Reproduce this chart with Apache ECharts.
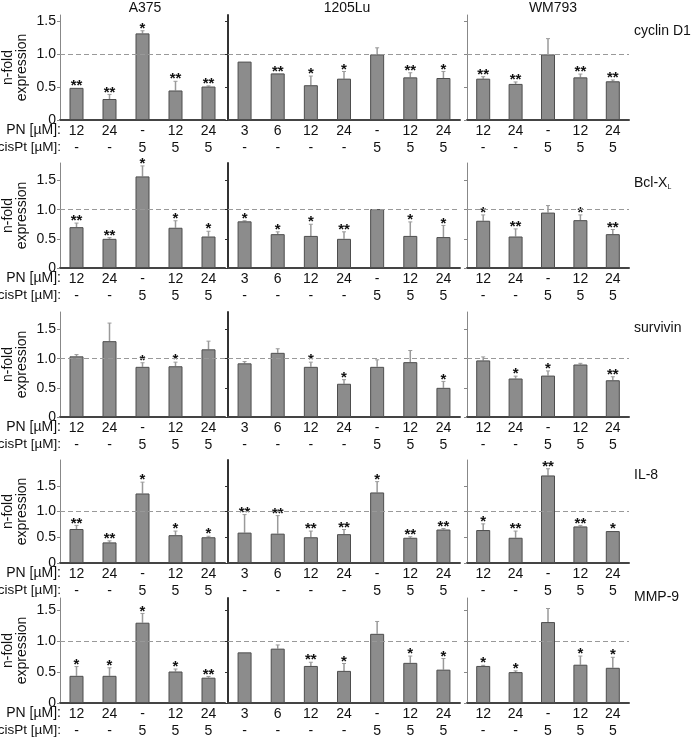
<!DOCTYPE html>
<html><head><meta charset="utf-8">
<script src="https://cdn.jsdelivr.net/npm/echarts@6/dist/echarts.min.js"></script>
<style>html,body{margin:0;padding:0;background:#fff}#c{width:693px;height:746px}</style>
</head><body><div id="c"></div>
<script>
// ---- categories ----
const pnA375 = ['12','24','-','12','24'];
const cisA375 = ['-','-','5','5','5'];
const pn1205 = ['3','6','12','24','-','12','24'];
const cis1205 = ['-','-','-','-','5','5','5'];
const pnWM = ['12','24','-','12','24'];
const cisWM = ['-','-','5','5','5'];
const cellLines = ['A375','1205Lu','WM793'];
const genes = ['cyclin D1','Bcl-X{sub|L}','survivin','IL-8','MMP-9'];
const yTicks = [0,0.5,1.0,1.5];

// ---- cyclin D1 ----
const cycA375 = [0.49,0.32,1.32,0.45,0.51];
const cycA375Err = [0,0.07,0.04,0.14,0.01];
const cycA375Sig = ['**','**','*','**','**'];
const cyc1205 = [0.89,0.71,0.53,0.63,1.0,0.65,0.64];
const cyc1205Err = [0,0,0.14,0.11,0.1,0.07,0.1];
const cyc1205Sig = ['','**','*','*','','**','*'];
const cycWM = [0.63,0.55,1.0,0.65,0.59];
const cycWMErr = [0.03,0.03,0.24,0.05,0.02];
const cycWMSig = ['**','**','','**','**'];

// ---- Bcl-XL ----
const bclA375 = [0.70,0.50,1.57,0.69,0.54];
const bclA375Err = [0.07,0.02,0.18,0.12,0.09];
const bclA375Sig = ['**','**','*','*','*'];
const bcl1205 = [0.80,0.58,0.55,0.50,1.01,0.55,0.53];
const bcl1205Err = [0.01,0.04,0.2,0.12,0,0.24,0.2];
const bcl1205Sig = ['*','*','*','**','','*','*'];
const bclWM = [0.81,0.54,0.95,0.82,0.58];
const bclWMErr = [0.1,0.13,0.12,0.09,0.08];
const bclWMSig = ['*','**','','*','**'];

// ---- survivin ----
const surA375 = [1.04,1.30,0.86,0.87,1.16];
const surA375Err = [0.03,0.31,0.07,0.07,0.14];
const surA375Sig = ['','','*','*',''];
const sur1205 = [0.92,1.10,0.86,0.57,0.86,0.94,0.50];
const sur1205Err = [0.03,0.07,0.08,0.07,0.12,0.2,0.11];
const sur1205Sig = ['','','*','*','','','*'];
const surWM = [0.97,0.66,0.71,0.90,0.63];
const surWMErr = [0.06,0.04,0.08,0.02,0.06];
const surWMSig = ['','*','*','','**'];

// ---- IL-8 ----
const il8A375 = [0.66,0.40,1.35,0.54,0.50];
const il8A375Err = [0.07,0.03,0.22,0.08,0.02];
const il8A375Sig = ['**','**','*','*','*'];
const il81205 = [0.59,0.57,0.50,0.56,1.37,0.49,0.65];
const il81205Err = [0.35,0.35,0.12,0.09,0.21,0.02,0.02];
const il81205Sig = ['**','**','**','**','*','**','**'];
const il8WM = [0.64,0.49,1.70,0.71,0.62];
const il8WMErr = [0.12,0.13,0.13,0.02,0];
const il8WMSig = ['*','**','**','**','*'];

// ---- MMP-9 ----
const mmpA375 = [0.44,0.44,1.30,0.51,0.41];
const mmpA375Err = [0.15,0.13,0.15,0.04,0.02];
const mmpA375Sig = ['*','*','*','*','**'];
const mmp1205 = [0.82,0.88,0.60,0.52,1.12,0.65,0.54];
const mmp1205Err = [0,0.06,0.06,0.12,0.2,0.11,0.18];
const mmp1205Sig = ['','','**','*','','*','*'];
const mmpWM = [0.60,0.50,1.31,0.62,0.57];
const mmpWMErr = [0.01,0.02,0.22,0.14,0.17];
const mmpWMSig = ['*','*','','*','*'];

const panels = [
  [[cycA375,cycA375Err,cycA375Sig],[cyc1205,cyc1205Err,cyc1205Sig],[cycWM,cycWMErr,cycWMSig]],
  [[bclA375,bclA375Err,bclA375Sig],[bcl1205,bcl1205Err,bcl1205Sig],[bclWM,bclWMErr,bclWMSig]],
  [[surA375,surA375Err,surA375Sig],[sur1205,sur1205Err,sur1205Sig],[surWM,surWMErr,surWMSig]],
  [[il8A375,il8A375Err,il8A375Sig],[il81205,il81205Err,il81205Sig],[il8WM,il8WMErr,il8WMSig]],
  [[mmpA375,mmpA375Err,mmpA375Sig],[mmp1205,mmp1205Err,mmp1205Sig],[mmpWM,mmpWMErr,mmpWMSig]]
];
const colCats = [[pnA375,cisA375],[pn1205,cis1205],[pnWM,cisWM]];

// ---- layout ----
const FONT = 'Liberation Sans, Arial, sans-serif';
const cols = [{left:60,width:165},{left:228,width:232},{left:467,width:162}];
const rows = [
  {top:15,height:105,max:1.6},
  {top:163,height:105,max:1.8},
  {top:312,height:105,max:1.8},
  {top:460,height:103,max:2.0},
  {top:598,height:105,max:1.7}
];

const grid=[], xAxis=[], yAxis=[], series=[], graphic=[];
rows.forEach((r,ri)=>{
  cols.forEach((c,ci)=>{
    const gi = grid.length;
    grid.push({left:c.left, top:r.top, width:c.width, height:r.height});
    const [pn,cis] = colCats[ci];
    xAxis.push({
      type:'category', gridIndex:gi, data: pn.map((p,i)=>p+'\n'+cis[i]),
      axisLine:{lineStyle:{color:'#444', width:2}},
      axisTick:{show:false},
      axisLabel:{color:'#111', fontSize:14, fontFamily:FONT, lineHeight:17, margin:3, interval:0}
    });
    yAxis.push({
      type:'value', gridIndex:gi, min:0, max:r.max, interval:0.5,
      splitLine:{show:false},
      axisLine:{show:true, lineStyle:{color: ci===1?'#333':'#888', width: ci===1?2:1}},
      axisTick:{show:true, length:3, customValues:yTicks, lineStyle:{color: ci===1?'#333':'#888'}},
      axisLabel:{show: ci===0, customValues:yTicks, color:'#111', fontSize:14, fontFamily:FONT, margin:4,
        formatter:v=> v===0?'0':v.toFixed(1)},
      name: ci===0 ? 'n-fold\nexpression' : '',
      nameLocation:'middle', nameRotate:90, nameGap:31,
      nameTextStyle:{color:'#111', fontSize:14, fontFamily:FONT, lineHeight:14}
    });
    const [vals, errs, sig] = panels[ri][ci];
    series.push({
      type:'bar', xAxisIndex:gi, yAxisIndex:gi, data: vals, barWidth:14,
      itemStyle:{color:'#8c8c8c', borderColor:'#4d4d4d', borderWidth:1},
      silent:true, animation:false,
      markLine:{silent:true, symbol:'none', label:{show:false},
        lineStyle:{color:'#999', type:[5,3], width:1.2}, data:[{yAxis:1}]}
    });
    series.push({
      type:'custom', xAxisIndex:gi, yAxisIndex:gi, animation:false, silent:true,
      data: vals.map((v,i)=>[i, v+errs[i]]),
      renderItem:(params, api)=>{
        const i = params.dataIndex;
        const b = api.coord([i, vals[i]]);
        const t = api.coord([i, vals[i]+errs[i]]);
        const ch = [];
        if (errs[i] > 0) {
          ch.push({type:'line', shape:{x1:b[0],y1:b[1],x2:b[0],y2:t[1]}, style:{stroke:'#9a9a9a', lineWidth:1.5}});
          ch.push({type:'line', shape:{x1:b[0]-2,y1:t[1],x2:b[0]+2,y2:t[1]}, style:{stroke:'#9a9a9a', lineWidth:1}});
        }
        if (sig[i]) {
          ch.push({type:'text', x:b[0], y:t[1]-2, style:{text:sig[i], align:'center', verticalAlign:'middle',
            font:'bold 15px '+FONT, fill:'#111'}});
        }
        return {type:'group', children:ch};
      }
    });
  });
  // row label texts
  const bottom = r.top + r.height;
  graphic.push({type:'text', right: 693-61, top: bottom+3, style:{text:'PN [µM]:', font:'14px '+FONT, fill:'#111', align:'right'}});
  graphic.push({type:'text', right: 693-61, top: bottom+20, style:{text:'cisPt [µM]:', font:'13.5px '+FONT, fill:'#111', align:'right'}});
});

const colTitleX = [145, 347, 553];
cellLines.forEach((t,i)=>{
  graphic.push({type:'text', x: colTitleX[i], y: 1, style:{text:t, font:'14px '+FONT, fill:'#111', align:'center', verticalAlign:'top'}});
});
const geneY = [31, 183, 328, 475, 597];
genes.forEach((g,i)=>{
  graphic.push({type:'text', x: 634, y: geneY[i], style:{text:g, font:'14px '+FONT, fill:'#111', verticalAlign:'middle',
    rich:{sub:{fontSize:7, fontFamily:FONT, verticalAlign:'bottom', padding:[8,0,0,0]}}}});
});

const chart = echarts.init(document.getElementById('c'), null, {renderer:'canvas'});
chart.setOption({animation:false, backgroundColor:'#fff', grid, xAxis, yAxis, series, graphic});
</script></body></html>
